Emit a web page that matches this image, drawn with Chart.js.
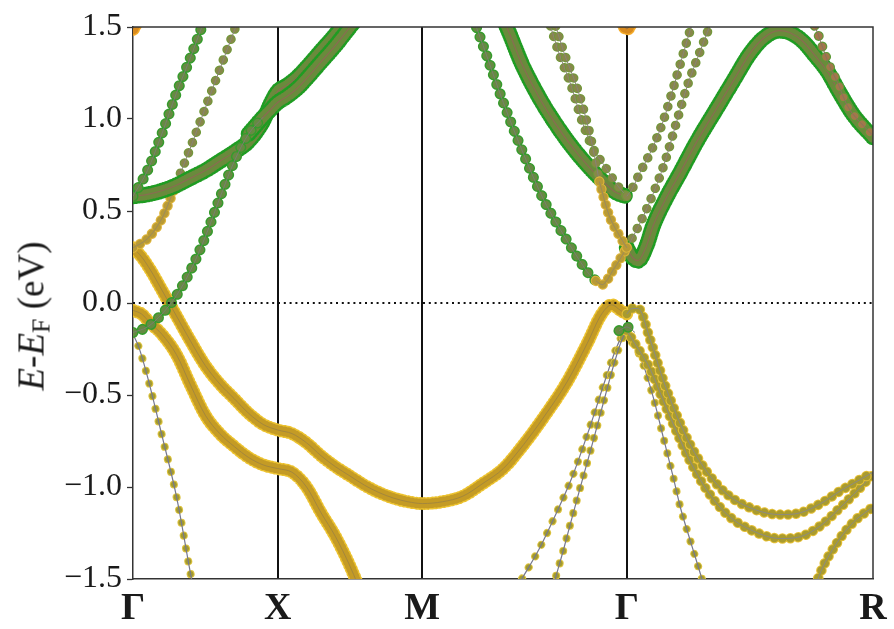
<!DOCTYPE html>
<html>
<head>
<meta charset="utf-8">
<title>Fat-band structure</title>
<script src="https://cdn.jsdelivr.net/npm/chart.js@4.4.1/dist/chart.umd.min.js"></script>
<style>
  html, body { margin: 0; padding: 0; background: #fff; }
  #wrap { position: relative; width: 894px; height: 629px; }
  #yTitle {
    position: absolute; left: 31px; top: 316px;
    transform: translate(-50%, -50%) rotate(-90deg);
    font-family: "Liberation Serif", serif; font-size: 37px;
    white-space: nowrap; color: #1a1a1a;
  }
  #yTitle sub { font-size: 0.7em; vertical-align: -0.22em; line-height: 0; }
</style>
</head>
<body>
<div id="wrap">
  <canvas id="bands" width="894" height="629"></canvas>
  <div id="yTitle"><i>E</i>-<i>E</i><sub>F</sub> (eV)</div>
</div>
<script>
// high-symmetry path  Γ - X - M - Γ - R
const kTicks = [0, 0.5, 1.0, 1.7071, 2.558];
const kLabels = ['Γ', 'X', 'M', 'Γ', 'R'];
const energyTicks = [-1.5, -1.0, -0.5, 0.0, 0.5, 1.0, 1.5];
const fermiLevel = 0.0;

// bands, [k, E - Ef] pairs
const bandF  = [[0,-0.17],[0.02,-0.24],[0.05,-0.40],[0.1,-0.72],[0.15,-1.05],[0.2,-1.48],[0.24,-1.8]];
const bandT1 = [[1.3,-1.62],[1.344,-1.50],[1.403,-1.34],[1.458,-1.16],[1.517,-0.95],[1.576,-0.69],[1.632,-0.42],[1.667,-0.26],[1.69,-0.18],[1.7071,-0.15]];
const bandT2 = [[1.44,-1.62],[1.458,-1.51],[1.49,-1.33],[1.517,-1.17],[1.55,-0.98],[1.594,-0.73],[1.628,-0.53],[1.663,-0.33],[1.69,-0.20],[1.7071,-0.15]];
const bandS1 = [[1.7071,-0.15],[1.72,-0.20],[1.753,-0.29],[1.798,-0.51],[1.833,-0.73],[1.868,-0.95],[1.892,-1.11],[1.926,-1.29],[1.961,-1.47],[1.985,-1.6]];
const bandS2 = [[1.7071,-0.15],[1.735,-0.22],[1.788,-0.36],[1.833,-0.53],[1.882,-0.71],[1.926,-0.86],[1.985,-1.02],[2.054,-1.15],[2.145,-1.24],[2.238,-1.28],[2.307,-1.27],[2.377,-1.21],[2.446,-1.11],[2.491,-1.04],[2.558,-0.93]];
const bandS4 = [[2.345,-1.62],[2.37,-1.49],[2.435,-1.30],[2.491,-1.19],[2.53,-1.14],[2.558,-1.11]];

const bandL1 = [[0,-0.04],[0.03,-0.06],[0.06,-0.11],[0.1,-0.17],[0.15,-0.28],[0.2,-0.45],[0.25,-0.61],[0.3,-0.71],[0.35,-0.78],[0.4,-0.84],[0.45,-0.88],[0.5,-0.90],[0.55,-0.92],[0.6,-1.00],[0.65,-1.14],[0.7,-1.27],[0.75,-1.43],[0.8,-1.62]];
const bandU1 = [[0,0.30],[0.03,0.25],[0.06,0.18],[0.1,0.07],[0.15,-0.07],[0.2,-0.21],[0.25,-0.34],[0.3,-0.44],[0.35,-0.52],[0.4,-0.60],[0.45,-0.66],[0.5,-0.69],[0.55,-0.71],[0.6,-0.76],[0.65,-0.83],[0.7,-0.89],[0.75,-0.94],[0.8,-0.99],[0.85,-1.03],[0.9,-1.06],[0.95,-1.08],[1.0,-1.09],[1.07,-1.08],[1.14,-1.05],[1.21,-0.98],[1.28,-0.90],[1.35,-0.77],[1.42,-0.62],[1.5,-0.43],[1.57,-0.22],[1.62,-0.06],[1.655,-0.01],[1.685,-0.04],[1.7071,-0.06]];
const bandS3 = [[1.7071,-0.06],[1.725,-0.03],[1.746,-0.03],[1.788,-0.20],[1.833,-0.42],[1.882,-0.62],[1.926,-0.77],[1.985,-0.92],[2.054,-1.04],[2.145,-1.12],[2.238,-1.15],[2.307,-1.14],[2.377,-1.09],[2.446,-1.02],[2.491,-0.98],[2.558,-0.92]];

const bandA  = [[0,0.58],[0.05,0.59],[0.1,0.61],[0.15,0.64],[0.2,0.68],[0.25,0.72],[0.3,0.77],[0.35,0.82],[0.4,0.88],[0.45,0.99],[0.475,1.08],[0.5,1.15],[0.53,1.18],[0.57,1.23],[0.6,1.28],[0.65,1.37],[0.7,1.46],[0.75,1.56],[0.8,1.67]];
const bandB1 = [[0,-0.16],[0.05,-0.13],[0.1,-0.06],[0.15,0.04],[0.2,0.18],[0.25,0.36],[0.3,0.57],[0.35,0.77],[0.4,0.92],[0.45,1.01]];
const bandB2 = [[0.4,0.92],[0.45,1.01],[0.475,1.05],[0.5,1.09],[0.53,1.12],[0.57,1.17],[0.6,1.22],[0.65,1.31],[0.7,1.40],[0.75,1.50],[0.8,1.60]];
const bandC  = [[0,0.58],[0.05,0.72],[0.1,0.92],[0.15,1.14],[0.2,1.34],[0.25,1.55],[0.3,1.75]];
const bandD1 = [[0,0.30],[0.05,0.35],[0.1,0.46],[0.15,0.65]];
const bandD2 = [[0.15,0.65],[0.2,0.85],[0.25,1.06],[0.3,1.27],[0.35,1.48],[0.4,1.68]];
const bandH1 = [[0,1.49],[0.03,1.58]];
const bandH2 = [[1.68,1.58],[1.7071,1.49],[1.735,1.58]];

const bandG1  = [[1.14,1.70],[1.21,1.40],[1.28,1.09],[1.35,0.81],[1.42,0.56],[1.5,0.34],[1.54,0.24],[1.57,0.17],[1.6,0.12]];
const bandG1b = [[1.6,0.12],[1.622,0.10],[1.66,0.18],[1.7071,0.30]];
const bandR2b = [[1.7071,0.30],[1.735,0.38],[1.778,0.52],[1.833,0.74],[1.882,1.00],[1.916,1.18],[1.961,1.37],[1.985,1.47],[2.015,1.58]];
const bandG2  = [[1.25,1.65],[1.3,1.47],[1.344,1.30],[1.403,1.12],[1.458,0.98],[1.517,0.85],[1.576,0.74],[1.632,0.65],[1.67,0.60],[1.7071,0.58]];
const bandR2a = [[1.7071,0.58],[1.725,0.62],[1.753,0.71],[1.798,0.85],[1.833,0.99],[1.868,1.17],[1.892,1.30],[1.916,1.43],[1.935,1.53]];
const bandG3a = [[1.42,1.62],[1.45,1.47],[1.472,1.36],[1.517,1.17],[1.552,0.99],[1.587,0.85],[1.632,0.74],[1.674,0.64],[1.7071,0.58]];
const bandG3b = [[1.44,1.62],[1.468,1.47],[1.49,1.36],[1.535,1.17],[1.568,0.99],[1.59,0.84],[1.612,0.66]];
const bandG3c = [[1.612,0.66],[1.645,0.48],[1.68,0.37],[1.7071,0.30]];
const bandR1  = [[1.7071,0.30],[1.725,0.25],[1.746,0.23],[1.775,0.31],[1.798,0.42],[1.843,0.57],[1.892,0.71],[1.95,0.88],[2.015,1.05],[2.08,1.22],[2.13,1.35],[2.18,1.44],[2.233,1.48],[2.27,1.47],[2.317,1.42],[2.36,1.34],[2.4,1.26],[2.44,1.15],[2.491,1.02],[2.558,0.90]];
const bandR3  = [[2.34,1.56],[2.366,1.47],[2.386,1.38],[2.41,1.28],[2.435,1.20],[2.47,1.07],[2.515,0.98],[2.558,0.91]];
const bandGlow = [[1.68,-0.15],[1.7071,-0.13],[1.735,-0.16]];

// marker looks: ring = edge colour, fill = inner colour, gap = spacing of the dots
const styles = {
  fatGreen: { ring: '#1f9c22', fill: '#6a8a3c', size: 11,  edge: 2.5, gap: 3,  line: '#8a6c52', lw: 1.2 },
  gold:     { ring: '#ecc22e', fill: '#c49b25', size: 10,  edge: 1.5, gap: 4,  line: '#a4873c', lw: 1 },
  goldDot:  { ring: '#e6c035', fill: '#a99b2f', size: 8.5, edge: 1,   gap: 8,  line: '#8c8a84', lw: 1 },
  amberDot: { ring: '#dfb53a', fill: '#b89a36', size: 8,   edge: 1.2, gap: 8,  line: '#9a8a60', lw: 1 },
  greenDot: { ring: '#359c2c', fill: '#668a42', size: 8,   edge: 1.5, gap: 10, line: '#7b7d70', lw: 1 },
  oliveDot: { ring: '#6f9a38', fill: '#87884a', size: 7.5, edge: 1,   gap: 11, line: '#8a8278', lw: 1 },
  brownDot: { ring: '#5d9a36', fill: '#a2784a', size: 7.5, edge: 1.2, gap: 11, line: '#8a7060', lw: 1 },
  thin:     { ring: '#dcc23e', fill: '#a29a30', size: 6,   edge: 1,   gap: 13, line: '#76788e', lw: 1.2 },
  orange:   { ring: '#f4ab2a', fill: '#d88a1e', size: 11,  edge: 1.5, gap: 4,  line: '#a07040', lw: 1 }
};

// drawing order: first entry at the bottom
const bandList = [
  [bandF, 'thin'], [bandT1, 'thin'], [bandT2, 'thin'], [bandS1, 'thin'],
  [bandS4, 'goldDot'], [bandS2, 'goldDot'],
  [bandL1, 'gold'], [bandU1, 'gold'], [bandS3, 'goldDot'],
  [bandD1, 'amberDot'], [bandD2, 'oliveDot'],
  [bandA, 'fatGreen'], [bandB2, 'fatGreen'], [bandG2, 'fatGreen'], [bandR1, 'fatGreen'],
  [bandC, 'greenDot'], [bandB1, 'greenDot'],
  [bandG1, 'greenDot'], [bandG1b, 'amberDot'], [bandR2b, 'oliveDot'],
  [bandG3a, 'oliveDot'], [bandG3b, 'oliveDot'], [bandG3c, 'amberDot'],
  [bandR2a, 'oliveDot'], [bandR3, 'brownDot'],
  [bandGlow, 'greenDot'], [bandH1, 'orange'], [bandH2, 'orange']
];

const datasets = [];
let seq = 0;

function layer(points, color, width, dash, cap) {
  return {
    data: points.map(([k, e]) => ({ x: k, y: e })),
    borderColor: color,
    borderWidth: width,
    borderDash: dash,
    borderCapStyle: cap,
    pointRadius: 0,
    pointHitRadius: 0,
    fill: false,
    cubicInterpolationMode: 'monotone',
    clip: 0,
    order: -(seq++)
  };
}

bandList.forEach(([pts, key]) => {
  const s = styles[key];
  // rows of round dots, ring under fill, then the band line through them
  datasets.push(layer(pts, s.ring, s.size + 2 * s.edge, [0.001, s.gap], 'round'));
  datasets.push(layer(pts, s.fill, s.size, [0.001, s.gap], 'round'));
  datasets.push(layer(pts, s.line, s.lw, [], 'butt'));
});

// Fermi level, dotted
const fermi = layer([[kTicks[0], fermiLevel], [kTicks[kTicks.length - 1], fermiLevel]], '#111', 1.8, [2, 3.8], 'butt');
fermi.cubicInterpolationMode = 'default';
fermi.order = -100000;
datasets.push(fermi);

// top and right side of the frame
const frame = {
  id: 'frame',
  afterDraw(chart) {
    const { ctx, chartArea: a } = chart;
    ctx.save();
    ctx.strokeStyle = '#333';
    ctx.lineWidth = 1.5;
    ctx.beginPath();
    ctx.moveTo(a.left, a.top);
    ctx.lineTo(a.right, a.top);
    ctx.lineTo(a.right, a.bottom);
    ctx.stroke();
    ctx.restore();
  }
};

new Chart(document.getElementById('bands').getContext('2d'), {
  type: 'line',
  data: { datasets },
  options: {
    responsive: false,
    animation: false,
    events: [],
    layout: { padding: { top: 27, right: 21, bottom: 0, left: 0 } },
    plugins: { legend: { display: false }, tooltip: { enabled: false } },
    scales: {
      x: {
        type: 'linear',
        min: kTicks[0],
        max: kTicks[kTicks.length - 1],
        z: 1,
        afterBuildTicks: s => { s.ticks = kTicks.map(v => ({ value: v })); },
        afterFit: s => { s.height = 50; },
        ticks: {
          autoSkip: false,
          maxRotation: 0,
          padding: 7,
          color: '#1a1a1a',
          font: { family: 'Liberation Serif', size: 38, weight: 'bold' },
          callback: (v, i) => kLabels[i]
        },
        grid: {
          drawTicks: false,
          lineWidth: 2,
          color: c => (c.index > 0 && c.index < kTicks.length - 1) ? '#111' : 'rgba(0,0,0,0)'
        },
        border: { display: true, color: '#333', width: 1.5 }
      },
      y: {
        type: 'linear',
        min: energyTicks[0],
        max: energyTicks[energyTicks.length - 1],
        z: 1,
        afterBuildTicks: s => { s.ticks = energyTicks.map(v => ({ value: v })); },
        afterFit: s => { s.width = 133; },
        ticks: {
          padding: 5,
          color: '#1a1a1a',
          font: { family: 'Liberation Serif', size: 32 },
          callback: v => (v < 0 ? '\u2212' : '') + Math.abs(v).toFixed(1)
        },
        grid: { drawOnChartArea: false, drawTicks: true, tickLength: 6, tickColor: '#333', tickWidth: 1.3 },
        border: { display: true, color: '#333', width: 1.5 }
      }
    }
  },
  plugins: [frame]
});
</script>
</body>
</html>
